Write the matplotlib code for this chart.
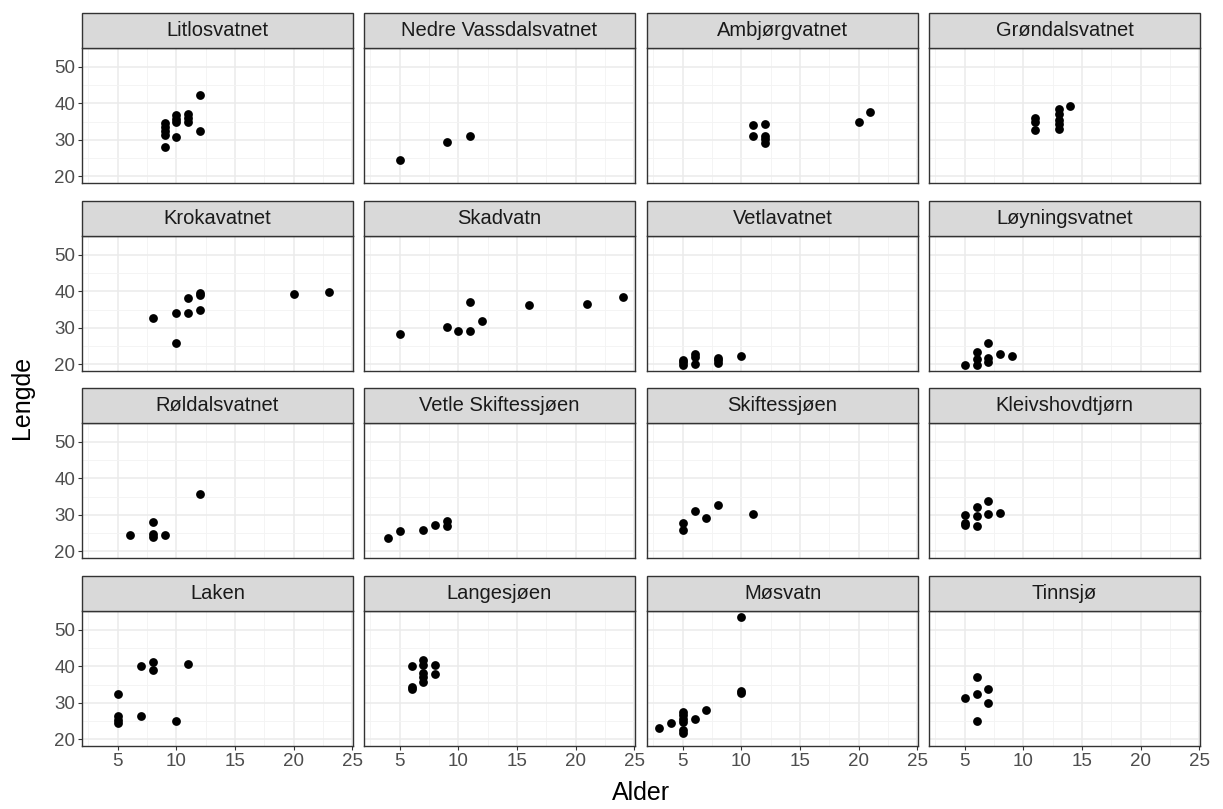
import matplotlib
matplotlib.use("Agg")
import matplotlib.pyplot as plt
from matplotlib.patches import Rectangle
from matplotlib.ticker import FixedLocator

plt.rcParams['font.family'] = ['Liberation Sans', 'DejaVu Sans']

lakes = ["Litlosvatnet", "Nedre Vassdalsvatnet", "Ambjørgvatnet", "Grøndalsvatnet",
         "Krokavatnet", "Skadvatn", "Vetlavatnet", "Løyningsvatnet",
         "Røldalsvatnet", "Vetle Skiftessjøen", "Skiftessjøen", "Kleivshovdtjørn",
         "Laken", "Langesjøen", "Møsvatn", "Tinnsjø"]

litlosvatnet_age = [9, 9, 9, 9, 9, 10, 10, 10, 10, 11, 11, 11, 12, 12]
litlosvatnet_len = [34.6, 33.5, 32.4, 31.4, 28.2, 36.8, 35.7, 34.8, 30.8, 37.2, 36.1, 34.9, 42.3, 32.5]

nedre_age = [5, 9, 11]
nedre_len = [24.5, 29.4, 31.1]

ambjorg_age = [11, 11, 12, 12, 12, 12, 20, 21]
ambjorg_len = [34.0, 31.1, 34.3, 31.2, 30.2, 29.3, 34.8, 37.7]

grondal_age = [11, 11, 11, 13, 13, 13, 13, 13, 14]
grondal_len = [35.9, 34.9, 32.6, 38.4, 37.0, 35.6, 34.3, 33.1, 39.2]

kroka_age = [8, 10, 10, 11, 11, 12, 12, 12, 20, 23]
kroka_len = [32.6, 34.1, 26.0, 38.1, 34.1, 39.7, 38.9, 35.0, 39.3, 39.9]

skad_age = [5, 9, 10, 11, 11, 12, 16, 21, 24]
skad_len = [28.3, 30.4, 29.1, 29.3, 37.0, 31.9, 36.3, 36.6, 38.6]

vetla_age = [5, 5, 5, 6, 6, 6, 8, 8, 8, 10]
vetla_len = [21.3, 20.6, 19.9, 22.8, 22.0, 20.0, 21.9, 21.2, 20.4, 22.3]

loyning_age = [5, 6, 6, 6, 7, 7, 7, 8, 9]
loyning_len = [19.9, 23.5, 21.6, 19.9, 25.8, 21.8, 20.7, 22.8, 22.3]

roldal_age = [6, 8, 8, 8, 9, 12]
roldal_len = [24.4, 28.1, 24.9, 24.0, 24.6, 35.7]

vetleskift_age = [4, 5, 7, 8, 9, 9]
vetleskift_len = [23.8, 25.6, 25.9, 27.2, 28.3, 27.0]

skift_age = [5, 5, 6, 7, 8, 11]
skift_len = [27.7, 25.8, 31.1, 29.3, 32.8, 30.2]

kleiv_age = [5, 5, 5, 6, 6, 6, 7, 7, 8]
kleiv_len = [30.0, 27.9, 27.2, 32.3, 29.7, 27.0, 33.7, 30.3, 30.6]

laken_age = [5, 5, 5, 5, 7, 7, 8, 8, 10, 11]
laken_len = [32.5, 26.3, 25.3, 24.5, 40.2, 26.3, 41.3, 39.0, 25.0, 40.6]

lange_age = [6, 6, 6, 7, 7, 7, 7, 7, 8, 8]
lange_len = [40.0, 34.4, 33.8, 41.8, 40.5, 38.2, 37.0, 35.8, 40.5, 38.0]

mos_age = [3, 4, 5, 5, 5, 5, 5, 5, 6, 7, 10, 10, 10]
mos_len = [23.2, 24.5, 27.6, 26.6, 25.6, 24.8, 22.5, 21.7, 25.5, 28.2, 53.5, 33.2, 32.6]

tinn_age = [5, 6, 6, 6, 7, 7]
tinn_len = [31.3, 37.0, 32.5, 25.2, 33.7, 30.0]

ages = [litlosvatnet_age, nedre_age, ambjorg_age, grondal_age,
        kroka_age, skad_age, vetla_age, loyning_age,
        roldal_age, vetleskift_age, skift_age, kleiv_age,
        laken_age, lange_age, mos_age, tinn_age]
lens = [litlosvatnet_len, nedre_len, ambjorg_len, grondal_len,
        kroka_len, skad_len, vetla_len, loyning_len,
        roldal_len, vetleskift_len, skift_len, kleiv_len,
        laken_len, lange_len, mos_len, tinn_len]

x_ticks = [5, 10, 15, 20, 25]
y_ticks = [20, 30, 40, 50]

W, H = 1223, 809
fig = plt.figure(figsize=(W / 100, H / 100), dpi=100)

col_left = [82, 364, 647, 929]
panel_w = 271
row_top = [48, 236, 423, 611]
panel_h = 135
strip_h = 35

all_x = [v for a in ages for v in a]
all_y = [v for l in lens for v in l]
xr = max(all_x) - min(all_x)
yr = max(all_y) - min(all_y)
xlim = (min(all_x) - 0.05 * xr, max(all_x) + 0.05 * xr)
ylim = (min(all_y) - 0.05 * yr, max(all_y) + 0.05 * yr)

border = "#333333"
for i, name in enumerate(lakes):
    r, c = divmod(i, 4)
    left = col_left[c] / W
    bottom = 1 - (row_top[r] + panel_h) / H
    ax = fig.add_axes([left, bottom, panel_w / W, panel_h / H])
    ax.set_xlim(xlim)
    ax.set_ylim(ylim)
    ax.xaxis.set_major_locator(FixedLocator(x_ticks))
    ax.yaxis.set_major_locator(FixedLocator(y_ticks))
    ax.xaxis.set_minor_locator(FixedLocator([2.5, 7.5, 12.5, 17.5, 22.5]))
    ax.yaxis.set_minor_locator(FixedLocator([25, 35, 45]))
    ax.grid(which="major", color="#EBEBEB", linewidth=1.1)
    ax.grid(which="minor", color="#F3F3F3", linewidth=0.6)
    ax.set_axisbelow(True)
    for s in ax.spines.values():
        s.set_color(border)
        s.set_linewidth(1.0)
    ax.scatter(ages[i], lens[i], s=40, color="black", zorder=3, linewidths=0)
    ax.tick_params(which="major", length=3, width=0.8, color=border,
                   labelsize=13.5, labelcolor="#4D4D4D", pad=2)
    ax.tick_params(which="minor", length=0)
    if r != 3:
        ax.tick_params(axis="x", which="major", length=0, labelbottom=False)
    if c != 0:
        ax.tick_params(axis="y", which="major", length=0, labelleft=False)
    sh = strip_h / panel_h
    rect = Rectangle((0, 1), 1, sh, transform=ax.transAxes, facecolor="#D9D9D9",
                     edgecolor=border, linewidth=1.0, clip_on=False, zorder=5)
    ax.add_patch(rect)
    ax.text(0.5, 1 + sh / 2, name, transform=ax.transAxes, ha="center", va="center",
            fontsize=14.5, color="#1A1A1A", zorder=6)

fig.text((col_left[0] + col_left[3] + panel_w) / 2 / W, 1 - 793 / H, "Alder",
         ha="center", va="center", fontsize=18)
fig.text(22 / W, 1 - 397 / H, "Lengde", ha="center", va="center",
         rotation=90, fontsize=18)

fig.savefig("out.png", dpi=100, facecolor="white")
